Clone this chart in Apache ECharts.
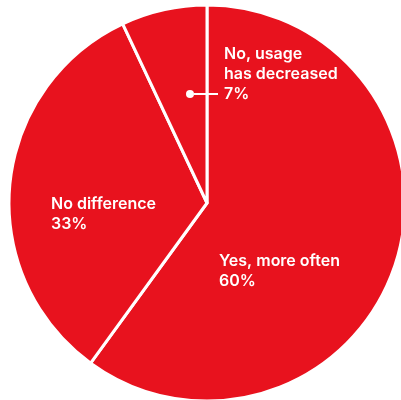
<!DOCTYPE html>
<html>
<head>
<meta charset="utf-8">
<script src="https://cdn.jsdelivr.net/npm/echarts@6/dist/echarts.min.js"></script>
<style>html,body{margin:0;padding:0;background:#fff;}#c{width:401px;height:400px;}</style>
</head>
<body>
<div id="c"></div>
<script>
const categories = ['Yes, more often', 'No difference', 'No, usage has decreased'];
const labelNames = ['Yes, more often', 'No difference', 'No, usage\nhas decreased'];
const values = [60, 33, 7];

// label anchor positions (left/top of each text block)
const labelPos = [[219, 251], [51, 194], [186, 44]];

const chart = echarts.init(document.getElementById('c'), null, {renderer: 'canvas'});
const base = {color: '#fff', fontFamily: 'Inter', fontWeight: 600, fontSize: 16, lineHeight: 20};
chart.setOption({
  animation: false,
  backgroundColor: '#fff',
  series: [{
    type: 'pie',
    center: [207, 203],
    radius: 198,
    startAngle: 90,
    clockwise: true,
    itemStyle: {color: '#e8121e', borderColor: '#fff', borderWidth: 3},
    labelLine: {show: false},
    label: {
      show: true,
      position: 'inside',
      ...base,
      formatter: function (p) {
        const i = p.dataIndex;
        if (i === 2) {
          const lines = labelNames[i].split('\n');
          return lines.map(l => '{sp|}' + '{t|' + l + '}').join('\n') + '\n{dot| }{ln| }{gap| }{t|' + values[i] + '%}';
        }
        return '{t|' + labelNames[i] + '}\n{t|' + values[i] + '%}';
      },
      rich: {
        t: {...base},
        sp: {width: 38, height: 20},
        dot: {width: 8, height: 8, backgroundColor: '#fff', borderRadius: 4, fontSize: 1, lineHeight: 8},
        ln: {width: 24, height: 2, backgroundColor: '#fff', fontSize: 1, lineHeight: 2},
        gap: {width: 6, height: 20}
      }
    },
    labelLayout: function (p) {
      const pos = labelPos[p.dataIndex];
      return {x: pos[0], y: pos[1], align: 'left', verticalAlign: 'top'};
    },
    data: categories.map((c, i) => ({name: c, value: values[i]}))
  }]
});
</script>
</body>
</html>
